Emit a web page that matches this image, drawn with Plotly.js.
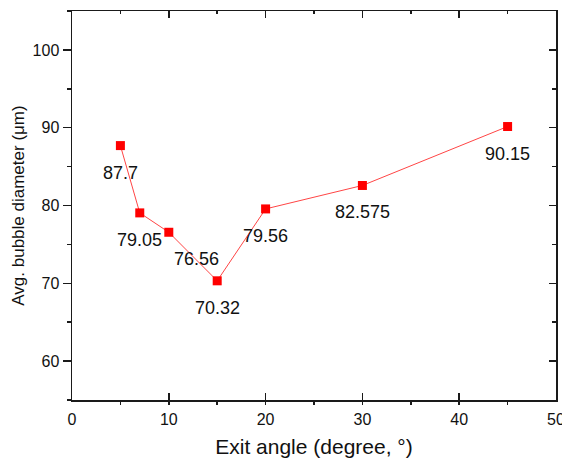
<!DOCTYPE html>
<html>
<head>
<meta charset="utf-8">
<script src="https://cdn.plot.ly/plotly-3.0.1.min.js"></script>
<style>html,body{margin:0;padding:0;background:#fff;}#chart{width:562px;height:460px;}</style>
</head>
<body>
<div id="chart"></div>
<script>
const exitAngle = [5, 7, 10, 15, 20, 30, 45];
const bubbleDiameter = [87.7, 79.05, 76.56, 70.32, 79.56, 82.575, 90.15];
const pointLabels = ["87.7", "79.05", "76.56", "70.32", "79.56", "82.575", "90.15"];
const labelXShift = [0, 0, 28, 0, 0, 0, 0];

const FONT = "Arial, 'Liberation Sans', sans-serif";
const AX = "#1a1a1a";

const trace = {
  x: exitAngle, y: bubbleDiameter, type: "scatter", mode: "lines+markers",
  line: {color: "#ff4545", width: 1},
  marker: {symbol: "square", size: 9, color: "#ff0000"},
  hoverinfo: "skip", showlegend: false
};
const dummy = {x: [0, 50], y: [55, 105], xaxis: "x2", yaxis: "y2", mode: "markers",
  marker: {opacity: 0}, showlegend: false, hoverinfo: "skip"};

const annotations = exitAngle.map((x, i) => ({
  x: x, y: bubbleDiameter[i], text: pointLabels[i], showarrow: false,
  xshift: labelXShift[i], yshift: -27,
  font: {family: FONT, size: 18, color: "#111"}
}));

const layout = {
  width: 562, height: 460,
  margin: {l: 72, r: 6, t: 11, b: 60},
  paper_bgcolor: "#fff", plot_bgcolor: "#fff",
  font: {family: FONT, color: "#111"},
  xaxis: {
    range: [0, 50], dtick: 10, tick0: 0, showgrid: false, zeroline: false,
    showline: true, linecolor: AX, linewidth: 1.5,
    ticks: "inside", ticklen: 7, tickwidth: 1.5, tickcolor: AX,
    minor: {ticks: "outside", dtick: 5, ticklen: 3, tickwidth: 1.5, tickcolor: AX, showgrid: false},
    tickfont: {family: FONT, size: 16, color: "#111"},
    ticklabelstandoff: 4, ticklabeloverflow: "allow",
    title: {text: "Exit angle (degree, °)", font: {family: FONT, size: 21, color: "#111"}, standoff: 12}
  },
  yaxis: {
    range: [55, 105], dtick: 10, tick0: 0, showgrid: false, zeroline: false,
    showline: true, linecolor: AX, linewidth: 1.5,
    ticks: "outside", ticklen: 8, tickwidth: 1.5, tickcolor: AX,
    minor: {ticks: "outside", dtick: 5, ticklen: 4, tickwidth: 1.5, tickcolor: AX, showgrid: false},
    tickfont: {family: FONT, size: 16, color: "#111"},
    ticklabelstandoff: 0,
    title: {text: "Avg. bubble diameter (μm)", font: {family: FONT, size: 17, color: "#111"}, standoff: 3}
  },
  xaxis2: {
    overlaying: "x", side: "top", range: [0, 50], dtick: 10, tick0: 0,
    showgrid: false, zeroline: false, showticklabels: false,
    showline: true, linecolor: AX, linewidth: 1.5,
    ticks: "inside", ticklen: 7, tickwidth: 1.5, tickcolor: AX,
    minor: {ticks: "inside", dtick: 5, ticklen: 3, tickwidth: 1.5, tickcolor: AX, showgrid: false}
  },
  yaxis2: {
    overlaying: "y", side: "right", range: [55, 105], dtick: 10, tick0: 0,
    showgrid: false, zeroline: false, showticklabels: false,
    showline: true, linecolor: AX, linewidth: 1.5,
    ticks: "inside", ticklen: 7, tickwidth: 1.5, tickcolor: AX,
    minor: {ticks: "inside", dtick: 5, ticklen: 4, tickwidth: 1.5, tickcolor: AX, showgrid: false}
  },
  annotations: annotations
};

Plotly.newPlot("chart", [trace, dummy], layout, {displayModeBar: false, staticPlot: true});
</script>
</body>
</html>
